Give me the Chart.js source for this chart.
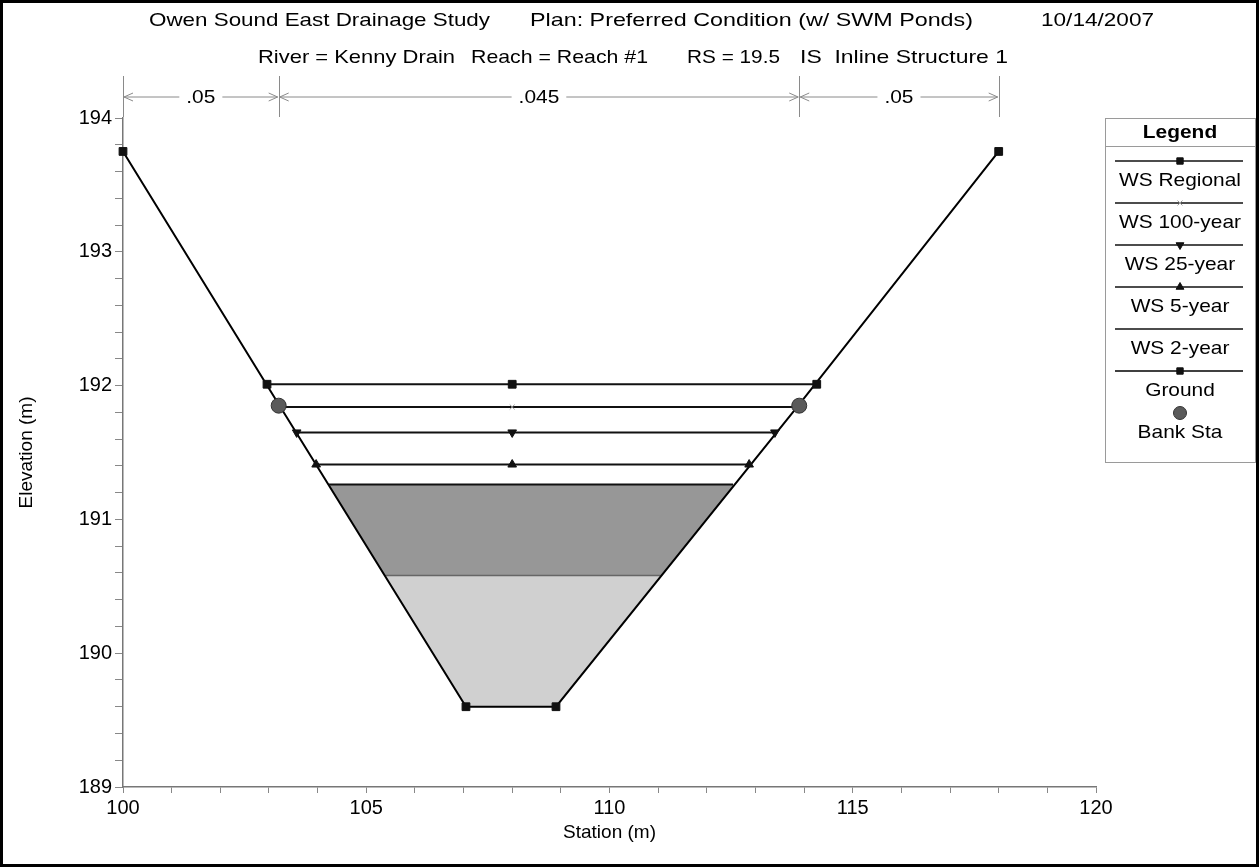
<!DOCTYPE html>
<html>
<head>
<meta charset="utf-8">
<script src="https://cdn.jsdelivr.net/npm/chart.js@4.4.0/dist/chart.umd.min.js"></script>
<style>
  html, body { margin: 0; padding: 0; background: #fff; }
  #wrap { width: 1259px; height: 867px; }
</style>
</head>
<body>
<div id="wrap"><canvas id="chart" width="1259" height="867"></canvas></div>
<script>
// header text
const titleLine1 = ['Owen Sound East Drainage Study', 'Plan: Preferred Condition (w/ SWM Ponds)', '10/14/2007'];
const titleLine2 = ['River = Kenny Drain', 'Reach = Reach #1', 'RS = 19.5', 'IS  Inline Structure 1'];

// Manning's n regions
const nStations = [100, 103.2, 113.9, 118];
const nValues = ['.05', '.045', '.05'];

// cross section
const groundSta = [100, 103.2, 107.05, 108.9, 113.9, 118];
const groundElev = [193.75, 191.86, 189.6, 189.6, 191.86, 193.75];
const bankSta = [103.2, 113.9];
const bankElev = [191.85, 191.85];

// water surfaces
const wsRegionalSta = [102.96, 108.0, 114.26];
const wsRegionalElev = [192.01, 192.01, 192.01];
const ws100Sta = [103.24, 108.0, 113.81];
const ws100Elev = [191.84, 191.84, 191.84];
const ws25Sta = [103.57, 108.0, 113.4];
const ws25Elev = [191.65, 191.65, 191.65];
const ws5Sta = [103.97, 108.0, 112.87];
const ws5Elev = [191.41, 191.41, 191.41];
const ws2Sta = [104.23, 112.54];
const ws2Elev = [191.26, 191.26];

// weir crest of the inline structure
const crestSta = [105.39, 111.05];
const crestElev = [190.58, 190.58];

const FONT = '"Liberation Sans", Arial, sans-serif';
const STRETCH = 1.1; // the source text is drawn a little wide
const GROUND = 5;     // index of the ground dataset, used as fill target
const pts = (xs, ys) => xs.map((x, i) => ({x: x, y: ys[i]}));

function wsLine(label, xs, ys, style, extra) {
    return Object.assign({
        label: label,
        data: pts(xs, ys),
        showLine: true,
        borderColor: '#111',
        borderWidth: 2,
        backgroundColor: '#111',
        pointBackgroundColor: '#111',
        pointBorderColor: '#111',
        pointStyle: style,
        pointRadius: 5,
        pointBorderWidth: 1,
        fill: false,
        clip: false,
        order: 1
    }, extra || {});
}

const datasets = [
    wsLine('WS Regional', wsRegionalSta, wsRegionalElev, 'rect', {pointRadius: 5.5}),
    wsLine('WS 100-year', ws100Sta, ws100Elev, 'crossRot', {pointRadius: 3.5, pointBorderColor: '#999', pointBorderWidth: 1}),
    wsLine('WS 25-year', ws25Sta, ws25Elev, 'triangle', {pointRotation: 180}),
    wsLine('WS 5-year', ws5Sta, ws5Elev, 'triangle'),
    wsLine('WS 2-year', ws2Sta, ws2Elev, 'circle', {pointRadius: 0}),
    wsLine('Ground', groundSta, groundElev, 'rect', {pointRadius: 5.5, borderColor: '#000', borderWidth: 2}),
    {
        label: 'Bank Sta',
        data: pts(bankSta, bankElev),
        showLine: false,
        pointStyle: 'circle',
        pointRadius: 7.5,
        pointBackgroundColor: '#5a5a5a',
        pointBorderColor: '#333',
        pointBorderWidth: 1,
        clip: false,
        order: 0
    },
    // water of the 2-year profile, filled down to the ground
    {
        label: 'Water',
        hideInLegend: true,
        data: pts(ws2Sta, ws2Elev),
        showLine: true,
        borderWidth: 0,
        borderColor: 'rgba(0,0,0,0)',
        backgroundColor: '#979797',
        fill: GROUND,
        pointRadius: 0,
        order: 6
    },
    // inline structure below the crest
    {
        label: 'Inline Structure',
        hideInLegend: true,
        data: pts(crestSta, crestElev),
        showLine: true,
        borderColor: '#666',
        borderWidth: 1.5,
        backgroundColor: '#d0d0d0',
        fill: GROUND,
        pointRadius: 0,
        order: 5
    }
];

// draw text squeezed/stretched to fit between x0 and x1
function fitText(ctx, text, x0, x1, y) {
    const w = ctx.measureText(text).width;
    ctx.save();
    ctx.translate(x0, y);
    ctx.scale((x1 - x0) / w, 1);
    ctx.textAlign = 'left';
    ctx.fillText(text, 0, 0);
    ctx.restore();
}

function wideText(ctx, text, x, y) {
    ctx.save();
    ctx.translate(x, y);
    ctx.scale(STRETCH, 1);
    ctx.textAlign = 'center';
    ctx.fillText(text, 0, 0);
    ctx.restore();
}

const headerPlugin = {
    id: 'header',
    afterDraw(chart) {
        const ctx = chart.ctx;
        ctx.save();
        // outer frame
        ctx.strokeStyle = '#000';
        ctx.lineWidth = 3;
        ctx.strokeRect(1.5, 1.5, chart.width - 3, chart.height - 3);
        // title lines
        ctx.fillStyle = '#000';
        ctx.font = '19px ' + FONT;
        ctx.textBaseline = 'middle';
        const span1 = [[149, 490], [530, 973], [1041, 1154]];
        titleLine1.forEach((t, i) => fitText(ctx, t, span1[i][0], span1[i][1], 21));
        const span2 = [[258, 455], [471, 648], [687, 780], [800, 1008]];
        titleLine2.forEach((t, i) => fitText(ctx, t, span2[i][0], span2[i][1], 58));

        // Manning's n markers
        const xs = chart.scales.x;
        const yLine = 97;
        ctx.strokeStyle = '#8a8a8a';
        ctx.lineWidth = 1;
        nStations.forEach(s => {
            const px = Math.round(xs.getPixelForValue(s)) + 0.5;
            ctx.beginPath();
            ctx.moveTo(px, 76);
            ctx.lineTo(px, 117);
            ctx.stroke();
        });
        ctx.font = '19px ' + FONT;
        nValues.forEach((v, i) => {
            const a = xs.getPixelForValue(nStations[i]);
            const b = xs.getPixelForValue(nStations[i + 1]);
            const mid = (a + b) / 2;
            const half = ctx.measureText(v).width * STRETCH / 2 + 7;
            ctx.beginPath();
            ctx.moveTo(a + 1, yLine); ctx.lineTo(mid - half, yLine);
            ctx.moveTo(mid + half, yLine); ctx.lineTo(b - 1, yLine);
            // arrow heads
            ctx.moveTo(a + 10, yLine - 4); ctx.lineTo(a + 1, yLine); ctx.lineTo(a + 10, yLine + 4);
            ctx.moveTo(b - 10, yLine - 4); ctx.lineTo(b - 1, yLine); ctx.lineTo(b - 10, yLine + 4);
            ctx.stroke();
            wideText(ctx, v, mid, yLine + 1);
        });
        ctx.restore();
    }
};

const legendPlugin = {
    id: 'boxLegend',
    afterDraw(chart) {
        const ctx = chart.ctx;
        const left = 1105, top = 118, w = 150, h = 344;
        const cx = left + w / 2;
        ctx.save();
        ctx.strokeStyle = '#9a9a9a';
        ctx.lineWidth = 1;
        ctx.strokeRect(left + 0.5, top + 0.5, w, h);
        ctx.beginPath();
        ctx.moveTo(left, top + 28.5);
        ctx.lineTo(left + w, top + 28.5);
        ctx.stroke();
        ctx.fillStyle = '#000';
        ctx.textBaseline = 'middle';
        ctx.font = 'bold 19px ' + FONT;
        wideText(ctx, 'Legend', cx, top + 15);
        ctx.font = '19px ' + FONT;
        const items = chart.data.datasets.filter(d => !d.hideInLegend);
        items.forEach((d, i) => {
            const ly = top + 43 + 42 * i;
            if (d.showLine) {
                ctx.strokeStyle = d.borderColor;
                ctx.lineWidth = 1.5;
                ctx.beginPath();
                ctx.moveTo(left + 10, ly);
                ctx.lineTo(left + w - 12, ly);
                ctx.stroke();
            }
            if (d.pointRadius > 0) {
                ctx.fillStyle = d.pointBackgroundColor;
                ctx.strokeStyle = d.pointBorderColor;
                ctx.lineWidth = d.pointBorderWidth;
                const r = d.pointStyle === 'circle' ? 6.5 : Math.min(d.pointRadius, 4.5);
                Chart.helpers.drawPoint(ctx, {
                    pointStyle: d.pointStyle,
                    rotation: d.pointRotation || 0,
                    radius: r,
                    borderWidth: d.pointBorderWidth
                }, cx, ly);
            }
            ctx.fillStyle = '#000';
            wideText(ctx, d.label, cx, ly + 20);
        });
        ctx.restore();
    }
};

new Chart(document.getElementById('chart'), {
    type: 'scatter',
    data: {datasets: datasets},
    options: {
        responsive: false,
        animation: false,
        layout: {padding: {top: 118, right: 163, left: 0, bottom: 0}},
        plugins: {
            legend: {display: false},
            tooltip: {enabled: false},
            title: {display: false}
        },
        scales: {
            x: {
                type: 'linear',
                position: 'bottom',
                min: 100,
                max: 120,
                afterFit: s => { s.height = 80; },
                ticks: {
                    stepSize: 1,
                    autoSkip: false,
                    maxRotation: 0,
                    padding: 3,
                    color: '#000',
                    font: {family: FONT, size: 20},
                    callback: v => (v % 5 === 0 ? v : '')
                },
                grid: {drawOnChartArea: false, drawTicks: true, tickLength: 6, color: '#888'},
                border: {color: '#777', width: 1.5},
                title: {
                    display: true,
                    text: 'Station (m)',
                    color: '#000',
                    font: {family: FONT, size: 19},
                    padding: {top: 0, bottom: 23}
                }
            },
            y: {
                type: 'linear',
                min: 189,
                max: 194,
                afterFit: s => { s.width = 123; },
                ticks: {
                    stepSize: 0.2,
                    autoSkip: false,
                    padding: 3,
                    color: '#000',
                    font: {family: FONT, size: 20},
                    callback: v => (Math.abs(v - Math.round(v)) < 1e-6 ? Math.round(v) : '')
                },
                grid: {drawOnChartArea: false, drawTicks: true, tickLength: 8, color: '#888'},
                border: {color: '#777', width: 1.5},
                title: {
                    display: true,
                    text: 'Elevation (m)',
                    color: '#000',
                    font: {family: FONT, size: 19},
                    padding: {top: 15, bottom: 0}
                }
            }
        }
    },
    plugins: [headerPlugin, legendPlugin]
});
</script>
</body>
</html>
